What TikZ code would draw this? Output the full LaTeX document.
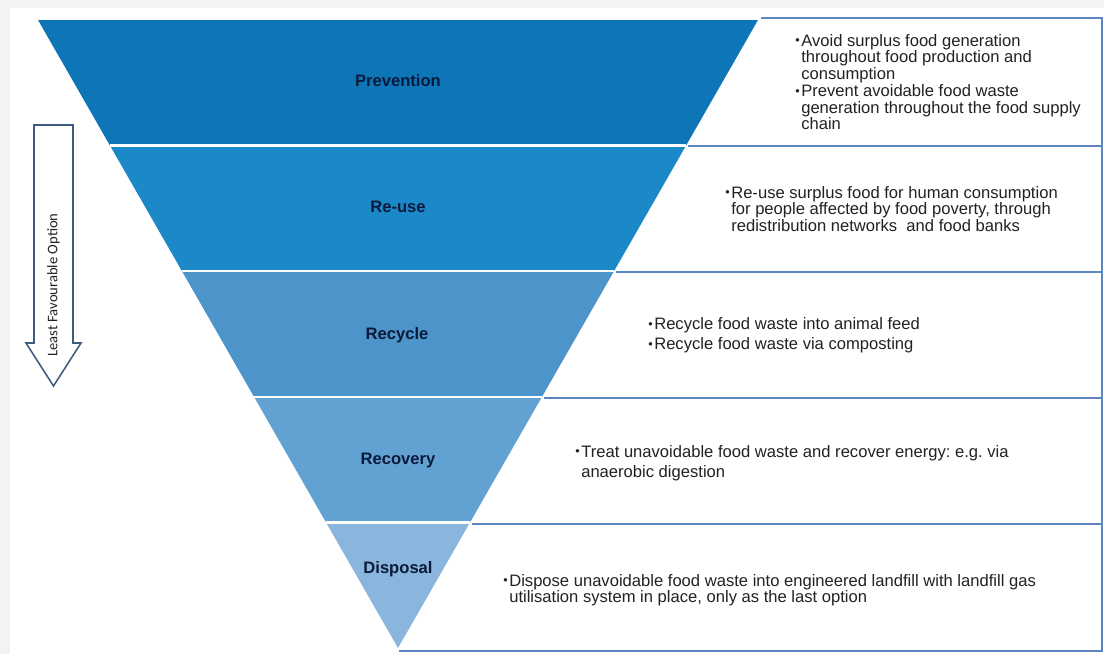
\documentclass[tikz,border=0pt]{standalone}
\usepackage{fontspec}
\setmainfont{Liberation Sans}
\newfontfamily\arrowfont{Carlito}
\usepackage{tikz}
\usetikzlibrary{calc}

\definecolor{bggray}{HTML}{F3F3F3}
\definecolor{bandA}{HTML}{0E76B7}
\definecolor{bandB}{HTML}{1B89C8}
\definecolor{bandC}{HTML}{4C94C9}
\definecolor{bandD}{HTML}{62A2D3}
\definecolor{bandE}{HTML}{8AB6DE}
\definecolor{boxline}{HTML}{5B85BF}
\definecolor{arrowline}{HTML}{3D5A80}
\definecolor{navy}{HTML}{0B1A3A}
\definecolor{bodytext}{HTML}{222222}

\newcommand{\dotitem}{\makebox[0.15cm][l]{\fontsize{9}{9}\selectfont\raisebox{0.12em}{\textbullet}}}
\newcommand{\hang}{\hspace*{0.15cm}}
\frenchspacing

\begin{document}
\begin{tikzpicture}[x=0.025cm,y=-0.025cm]
\tikzstyle{level}=[font=\fontsize{11.8}{12}\selectfont\bfseries,text=navy,inner sep=0pt]
\tikzstyle{note}=[font=\fontsize{11.8}{11.7}\selectfont,text=bodytext,align=left,anchor=west,inner sep=0pt]
\tikzstyle{frame}=[draw=boxline,line width=1.4pt]
\tikzstyle{gap}=[draw=white,line width=1.8pt]

\useasboundingbox (0,0) rectangle (1104,654);
\fill[bggray] (0,0) rectangle (1104,654);
\fill[white] (10,8) rectangle (1104,654);

% funnel bands, top to bottom
\foreach \top/\bot/\tl/\tr/\bl/\br/\col in {
    20/145.6/38/758/110/686/bandA,
    145.6/271.2/110/686/182/614/bandB,
    271.2/396.8/182/614/254/542/bandC,
    396.8/522.4/254/542/326/470/bandD,
    522.4/648/326/470/398/398/bandE}
  \fill[\col] (\tl,\top) -- (\tr,\top) -- (\br,\bot) -- (\bl,\bot) -- cycle;
\foreach \y/\l/\r in {145.6/110/686, 271.2/182/614, 396.8/254/542, 522.4/326/470}
  \draw[gap] (\l,\y) -- (\r,\y);

% text boxes on the right
\draw[frame] (761,18) -- (1102,18) -- (1102,651) -- (399,651);
\foreach \y/\x in {146/686, 272/614, 398/542, 524/470}
  \draw[frame] (\x+2,\y) -- (1102,\y);

\node[level] (prevention) at (398,81) {Prevention};
\node[level] (reuse) at (398,207) {Re-use};
\node[level] (recycle) at (397,335) {Recycle};
\node[level] (recovery) at (398,461) {Recovery};
\node[level] (disposal) at (398,569) {Disposal};

\node[note] (preventionNote) at (795,82) {\dotitem Avoid surplus food generation\\
  \hang throughout food production and\\
  \hang consumption\\[0.8pt]
  \dotitem Prevent avoidable food waste\\
  \hang generation throughout the food supply\\
  \hang chain};
\node[note] (reuseNote) at (725,209) {\dotitem Re-use surplus food for human consumption\\
  \hang for people affected by food poverty, through\\
  \hang redistribution networks\ \ and food banks};
\node[note] (recycleNote) at (648,335.5) {\dotitem Recycle food waste into animal feed\\[2.5pt]
  \dotitem Recycle food waste via composting};
\node[note] (recoveryNote) at (575,463) {\dotitem Treat unavoidable food waste and recover energy: e.g. via\\[2.5pt]
  \hang anaerobic digestion};
\node[note] (disposalNote) at (503,590) {\dotitem Dispose unavoidable food waste into engineered landfill with landfill gas\\
  \hang utilisation system in place, only as the last option};

% direction arrow
\draw[draw=arrowline,fill=white,line width=1.1pt] (34,125) -- (73,125) -- (73,343) -- (81,343)
  -- (53.5,386) -- (26,343) -- (34,343) -- cycle;
\node[rotate=90,font=\arrowfont\fontsize{10.4}{10.4}\selectfont,text=bodytext,inner sep=0pt] (least) at (53.5,285) {Least Favourable Option};
\end{tikzpicture}
\end{document}
